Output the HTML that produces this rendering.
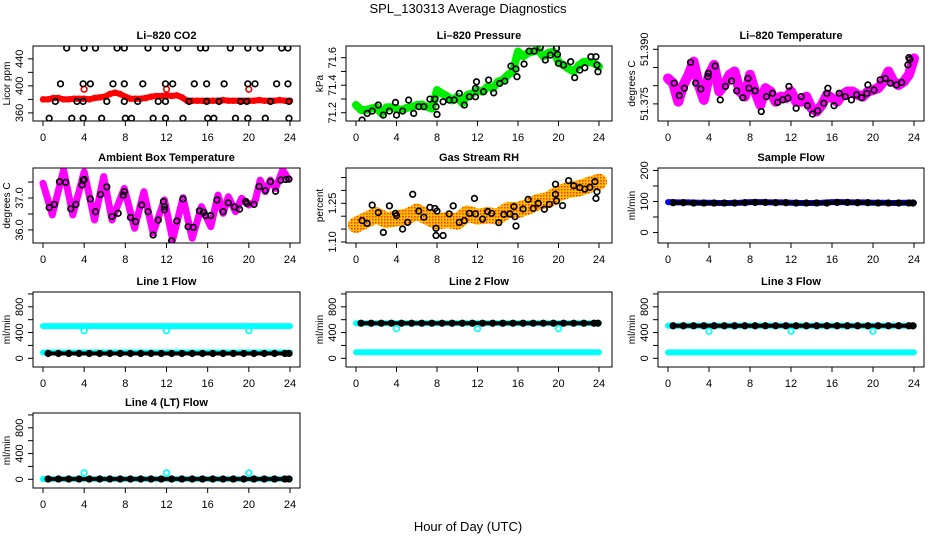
<!DOCTYPE html>
<html><head><meta charset="utf-8">
<style>
html,body{margin:0;padding:0;background:#fff;}
svg{display:block;font-family:"Liberation Sans",Arial,sans-serif;}
</style></head>
<body>
<svg id="chart" width="936" height="540" viewBox="0 0 936 540" xmlns="http://www.w3.org/2000/svg">
<defs>
<pattern id="rhpat" width="3" height="3" patternUnits="userSpaceOnUse">
<rect width="3" height="3" fill="#ffc000"/><rect width="1.5" height="1.5" fill="#ff3000"/>
</pattern>
</defs>
<text x="468" y="13" text-anchor="middle" font-size="13">SPL_130313  Average Diagnostics</text>
<text x="468" y="531" text-anchor="middle" font-size="13">Hour of Day (UTC)</text>
</svg>
<script>
// ---------- data ----------
const xTicks = [0,4,8,12,16,20,24];
const halfHours = [0,0.5,1,1.5,2,2.5,3,3.5,4,4.5,5,5.5,6,6.5,7,7.5,8,8.5,9,9.5,10,10.5,11,11.5,12,12.5,13,13.5,14,14.5,15,15.5,16,16.5,17,17.5,18,18.5,19,19.5,20,20.5,21,21.5,22,22.5,23,23.5,24];
const hours = [0,1,2,3,4,5,6,7,8,9,10,11,12,13,14,15,16,17,18,19,20,21,22,23,24];
const offHours = [0.5,1.5,2.5,3.5,4.5,5.5,6.5,7.5,8.5,9.5,10.5,11.5,12.5,13.5,14.5,15.5,16.5,17.5,18.5,19.5,20.5,21.5,22.5,23.5,23.9];
const outlierHours = [4,12,20];

const co2Red = [380,380,382,382,380,380,381,381,381,380,382,383,384,388,390,388,384,381,381,381,382,384,385,385,386,385,386,383,378,378,378,378,378,378,378,379,378,378,378,378,378,378,379,378,378,378,379,378,378];
const co2RedOutliers = [395,395,395];
const co2Levels = [456,403,377,352];
const co2LevelTimes = [
 [2.3,4.0,5.1,7.2,7.9,10.2,11.9,13.1,15.3,15.8,18.2,19.9,21.1,23.2,23.8],
 [1.7,3.9,4.6,6.8,7.9,9.7,11.9,12.6,14.7,15.9,17.6,19.9,20.6,22.7,23.8],
 [1.2,3.3,3.9,6.2,7.9,9.2,11.2,11.9,14.2,15.9,17.1,19.2,19.8,22.1,23.9],
 [0.6,2.8,3.9,5.7,8.0,8.6,10.7,11.9,13.6,16.0,16.6,18.7,19.9,21.6,23.9]];

const presGreen = [71.256,71.22,71.22,71.23,71.24,71.195,71.24,71.24,71.23,71.22,71.235,71.24,71.256,71.26,71.244,71.23,71.365,71.34,71.32,71.29,71.316,71.27,71.33,71.34,71.365,71.353,71.39,71.377,71.425,71.438,71.475,71.5,71.645,71.61,71.635,71.645,71.655,71.61,71.635,71.645,71.57,71.545,71.52,71.5,71.545,71.57,71.57,71.56,71.535];
const presBlackT = [0.6,1.1,1.6,2.2,2.7,3.3,3.9,4.0,4.6,5.2,5.7,6.2,6.7,7.3,7.8,7.9,8.0,8.6,9.2,9.7,10.2,10.7,11.2,11.8,11.8,11.9,12.6,13.1,13.6,14.2,14.7,15.3,15.8,15.9,16.6,17.1,17.6,18.2,18.7,19.2,19.8,19.9,20.0,20.5,21.2,21.6,22.1,22.6,23.2,23.7,23.8,23.9];
const presBlackV = [71.147,71.195,71.212,71.256,71.183,71.212,71.275,71.183,71.212,71.292,71.195,71.244,71.244,71.299,71.299,71.244,71.188,71.28,71.292,71.292,71.341,71.256,71.316,71.316,71.377,71.425,71.353,71.438,71.345,71.413,71.43,71.539,71.518,71.462,71.554,71.648,71.648,71.673,71.583,71.619,71.668,71.624,71.559,71.547,71.571,71.455,71.51,71.527,71.607,71.607,71.547,71.498];

const tempMag = [51.3820,51.3807,51.3756,51.3802,51.3830,51.3866,51.3802,51.3761,51.3830,51.3857,51.3784,51.3802,51.3830,51.3839,51.3784,51.3770,51.3830,51.3784,51.3747,51.3793,51.3784,51.3756,51.3770,51.3766,51.3784,51.3756,51.3756,51.3770,51.3738,51.3729,51.3747,51.3775,51.3766,51.3756,51.3775,51.3784,51.3784,51.3775,51.3770,51.3784,51.3788,51.3793,51.3811,51.3839,51.3811,51.3802,51.3811,51.3830,51.3875];
const tempBlackT = [0.6,1.1,1.6,2.2,2.7,3.2,3.9,3.95,4.6,5.1,5.6,6.2,6.7,7.3,7.8,7.9,8.5,9.1,9.6,10.2,10.7,11.2,11.7,11.8,12.5,13,13.6,14.1,14.6,15.2,15.5,15.6,16.2,16.7,17.3,17.9,18.4,18.9,19.4,19.5,20.1,20.7,21.2,21.7,22.3,22.8,23.4,23.5,23.6];
const tempBlackV = [51.3807,51.3773,51.3793,51.3864,51.3807,51.3791,51.3825,51.3834,51.3854,51.3761,51.3798,51.3813,51.3786,51.3767,51.3820,51.3793,51.3786,51.3729,51.3770,51.3779,51.3754,51.3761,51.3766,51.3798,51.3738,51.3770,51.3745,51.3722,51.3731,51.3752,51.3779,51.3793,51.3745,51.3779,51.3770,51.3761,51.3775,51.3767,51.3779,51.3802,51.3788,51.3816,51.3820,51.3807,51.3802,51.3809,51.3857,51.3877,51.3872];

const ambT = [0,0.9,2.0,2.9,4.0,5.0,5.9,6.7,7.9,8.9,9.8,10.7,11.8,12.6,13.6,14.5,15.4,16.3,17.0,17.5,18.0,18.7,19.3,20.0,20.6,21.1,21.6,22.1,22.6,23.3,23.8];
const ambV = [37.46,36.47,37.88,36.47,37.82,36.31,37.67,36.31,37.30,36.05,37.20,35.90,36.94,35.69,37.01,35.74,36.73,36.10,37.09,36.52,37.04,36.57,36.99,36.78,36.89,37.56,37.20,37.56,37.30,37.88,37.61];
const ambBlackT = [0.6,1.1,1.6,2.2,2.7,3.2,3.8,3.9,4.0,4.6,5.1,5.6,6.2,6.7,7.3,7.8,7.9,8.5,9.0,9.6,10.2,10.7,11.2,11.7,11.8,11.8,12.5,13.0,13.6,14.1,14.6,15.2,15.6,15.8,16.3,16.9,17.5,18.0,18.6,19.1,19.7,19.8,20.5,21.0,21.6,22.1,22.6,23.1,23.6,23.9];
const ambBlackV = [36.70,36.80,37.51,37.49,36.66,36.80,37.41,37.56,37.58,36.97,36.57,37.11,37.35,36.42,36.52,37.09,37.20,36.39,36.26,36.78,36.57,35.84,36.31,36.89,36.73,36.63,35.66,36.28,36.97,36.10,36.08,36.60,36.55,36.45,36.45,36.94,36.57,36.85,36.72,36.65,36.89,36.83,36.80,37.36,37.23,37.51,37.21,37.56,37.58,37.59];

const rhBand = [1.166,1.185,1.204,1.185,1.192,1.198,1.218,1.198,1.179,1.185,1.179,1.211,1.198,1.204,1.198,1.224,1.224,1.237,1.256,1.263,1.289,1.302,1.308,1.321,1.334];
const rhBlackT = [0.6,1.1,1.6,2.2,2.7,3.3,3.9,4.0,4.6,5.1,5.6,6.2,6.7,7.3,7.8,7.9,7.9,8.0,8.6,9.2,9.6,10.2,10.7,11.2,11.7,11.8,12.5,13.0,13.4,14.1,14.6,15.2,15.6,15.7,15.8,16.5,17.0,17.5,18.0,18.6,19.1,19.7,19.7,19.8,20.4,21.0,21.5,22.1,22.6,23.1,23.6,23.7,23.8];
const rhBlackV = [1.183,1.172,1.243,1.214,1.137,1.240,1.211,1.202,1.150,1.176,1.285,1.220,1.196,1.234,1.230,1.153,1.125,1.220,1.125,1.209,1.240,1.176,1.183,1.211,1.269,1.209,1.189,1.218,1.211,1.175,1.207,1.209,1.237,1.198,1.162,1.228,1.265,1.230,1.250,1.227,1.246,1.324,1.285,1.259,1.241,1.338,1.318,1.311,1.305,1.312,1.334,1.269,1.295];

const sfBlue = [98,97,97,96,96,95,95,96,98,98,97,97,96,95,95,96,98,98,97,97,96,96,95,96,96];
const sfBlack = [96,96,95,95,95,95,95,96,97,97,96,96,95,95,95,95,97,97,96,96,95,95,95,95,95];

const l1CyanHigh = [500,500,500,500,500,500,500,500,500,500,500,500,500,500,500,500,500,500,500,500,500,500,500,500,500];
const l1CyanLow = [90,90,90,90,90,90,90,90,90,90,90,90,90,90,90,90,90,90,90,90,90,90,90,90,90];
const l1Black = [75,75,75,75,75,75,75,75,75,75,75,75,75,75,75,75,75,75,75,75,75,75,75,75,75];
const l1Out = [430,430,430];
const l2CyanHigh = [545,545,545,545,545,545,545,545,545,545,545,545,545,545,545,545,545,545,545,545,545,545,545,545,545];
const l2CyanLow = [95,95,95,95,95,95,95,95,95,95,95,95,95,95,95,95,95,95,95,95,95,95,95,95,95];
const l2Black = [545,545,545,545,545,545,545,545,545,545,545,545,545,545,545,545,545,545,545,545,545,545,545,545,545];
const l2Out = [460,460,460];
const l3CyanHigh = [505,505,505,505,505,505,505,505,505,505,505,505,505,505,505,505,505,505,505,505,505,505,505,505,505];
const l3CyanLow = [92,92,92,92,92,92,92,92,92,92,92,92,92,92,92,92,92,92,92,92,92,92,92,92,92];
const l3Black = [505,505,505,505,505,505,505,505,505,505,505,505,505,505,505,505,505,505,505,505,505,505,505,505,505];
const l3Out = [420,420,420];
const l4Cyan = [5,5,5,5,5,5,5,5,5,5,5,5,5,5,5,5,5,5,5,5,5,5,5,5,5];
const l4Black = [5,5,5,5,5,5,5,5,5,5,5,5,5,5,5,5,5,5,5,5,5,5,5,5,5];
const l4Out = [100,100,100];

// ---------- drawing ----------
const NS = "http://www.w3.org/2000/svg";
const svg = document.getElementById('chart');
function mk(parent, tag, attrs){
  const e = document.createElementNS(NS, tag);
  for (const k in attrs) e.setAttribute(k, attrs[k]);
  parent.appendChild(e);
  return e;
}
const cols = [{l:33,r:300,x0:43,x24:290},{l:346,r:612,x0:356,x24:599},{l:658,r:924,x0:668,x24:914}];
const rows = [{t:46,b:121},{t:168,b:243},{t:292,b:367},{t:413,b:488}];
let pid = 0;
function panel(ci, ri, title, ylab, yTop, yBot, yTicks, yLabels, name){
  const c = cols[ci], rw = rows[ri];
  const g = mk(svg, 'g', {});
  
  
  const X = t => c.x0 + (t/24)*(c.x24 - c.x0);
  const Y = v => rw.b - (v - yBot)/(yTop - yBot)*(rw.b - rw.t);
  pid++;
  const cp = mk(g, 'clipPath', {id:'cp'+pid});
  mk(cp, 'rect', {x:c.l, y:rw.t, width:c.r-c.l, height:rw.b-rw.t});
  const marks = mk(g, 'g', {'clip-path':'url(#cp'+pid+')'});
  
  
  const box = mk(g, 'rect', {x:c.l, y:rw.t, width:c.r-c.l, height:rw.b-rw.t, fill:'none', stroke:'#000', 'stroke-width':1});
  
  
  const tt = mk(g, 'text', {x:(c.l+c.r)/2, y:rw.t-7, 'text-anchor':'middle', 'font-size':11, 'font-weight':'bold'});
  tt.textContent = title;
  
  
  xTicks.forEach(t => {
    const tk = mk(g, 'line', {x1:X(t), x2:X(t), y1:rw.b, y2:rw.b+5, stroke:'#000'});
    
    
    const lb = mk(g, 'text', {x:X(t), y:rw.b+20, 'text-anchor':'middle', 'font-size':11});
    lb.textContent = t;
    
    
  });
  yTicks.forEach(v => {
    const tk = mk(g, 'line', {x1:c.l-5, x2:c.l, y1:Y(v), y2:Y(v), stroke:'#000'});
    
    
  });
  yLabels.forEach(s => {
    const v = parseFloat(s);
    const lb = mk(g, 'text', {x:0, y:0, 'text-anchor':'middle', 'font-size':11, transform:'translate('+(c.l-10)+','+Y(v)+') rotate(-90)'});
    lb.textContent = s;
    
    
  });
  const yl = mk(g, 'text', {x:0, y:0, 'text-anchor':'middle', 'font-size':10, transform:'translate('+(c.l-23)+','+((rw.t+rw.b)/2)+') rotate(-90)'});
  yl.textContent = ylab;
  
  
  return {X, Y, g:marks};
}
function band(p, ts, vs, color, w, name){
  const n = Math.min(ts.length, vs.length);
  let d = '';
  for (let i=0;i<n;i++) d += (i?'L':'M') + p.X(ts[i]).toFixed(1) + ',' + p.Y(vs[i]).toFixed(1);
  const e = mk(p.g, 'path', {d:d, fill:'none', stroke:color, 'stroke-width':w, 'stroke-linejoin':'round', 'stroke-linecap':'round'});
  
  
}
function pts(p, ts, vs, color, name, r, sw){
  const n = Math.min(ts.length, vs.length);
  for (let i=0;i<n;i++){
    const e = mk(p.g, 'circle', {cx:p.X(ts[i]), cy:p.Y(vs[i]), r:r||2.8, fill:'none', stroke:color, 'stroke-width':sw||1.7});
    
    
  }
}

// Li-820 CO2
let p = panel(0,0,'Li\u2013820 CO2','Licor ppm',459,348,[360,380,400,420,440],['360','400','440'],'co2');
band(p, halfHours, co2Red, '#ff0000', 6, 'co2-red-series');
pts(p, halfHours, co2Red, '#ff0000', 'co2-red-point', 2.5, 1.5);
pts(p, outlierHours, co2RedOutliers, '#ff0000', 'co2-red-outlier');
co2Levels.forEach((lv, k) => {
  pts(p, co2LevelTimes[k], co2LevelTimes[k].map(() => lv), '#000', 'co2-black-point');
});

// Li-820 Pressure
p = panel(1,0,'Li\u2013820 Pressure','kPa',71.685,71.14,[71.2,71.3,71.4,71.5,71.6],['71.2','71.4','71.6'],'pressure');
band(p, halfHours, presGreen, '#00ee00', 8, 'pressure-green-series');
pts(p, halfHours, presGreen, '#00ee00', 'pressure-green-point', 3, 1.5);
pts(p, presBlackT, presBlackV, '#000', 'pressure-black-point');

// Li-820 Temperature
p = panel(2,0,'Li\u2013820 Temperature','degrees C',51.3909,51.3703,[51.375,51.380,51.385,51.390],['51.375','51.390'],'li820-temp');
band(p, halfHours, tempMag, '#ff00ff', 10, 'temp-magenta-series');
pts(p, halfHours, tempMag, '#ff00ff', 'temp-magenta-point', 3, 1.5);
pts(p, tempBlackT, tempBlackV, '#000', 'temp-black-point');

// Ambient Box Temperature
p = panel(0,1,'Ambient Box Temperature','degrees C',37.94,35.59,[36.0,36.5,37.0,37.5],['36.0','37.0'],'ambient-temp');
band(p, ambT, ambV, '#ff00ff', 7, 'ambient-magenta-series');
pts(p, ambBlackT, ambBlackV, '#000', 'ambient-black-point');

// Gas Stream RH
p = panel(1,1,'Gas Stream RH','percent',1.387,1.096,[1.10,1.15,1.20,1.25,1.30,1.35],['1.10','1.25'],'rh');
band(p, hours, rhBand, 'url(#rhpat)', 16, 'rh-orange-series');
pts(p, rhBlackT, rhBlackV, '#000', 'rh-black-point');

// Sample Flow
p = panel(2,1,'Sample Flow','ml/min',208,-34,[0,50,100,150,200],['0','100','200'],'sample-flow');
band(p, hours, sfBlue, '#0000ff', 6, 'sample-flow-blue-series');
band(p, offHours, sfBlack, '#000', 4, 'sample-flow-black-series');
pts(p, offHours, sfBlack, '#000', 'sample-flow-black-point');

const flowTicks = [0,200,400,600,800,1000], flowLabels = ['0','400','800'];
// Line 1
p = panel(0,2,'Line 1 Flow','ml/min',1030,-135,flowTicks,flowLabels,'line1-flow');
band(p, hours, l1CyanHigh, '#00ffff', 6, 'line1-cyan-high');
band(p, hours, l1CyanLow, '#00ffff', 6, 'line1-cyan-low');
band(p, offHours, l1Black, '#000', 4, 'line1-black-series');
pts(p, offHours, l1Black, '#000', 'line1-black-point');
pts(p, outlierHours, l1Out, '#00ffff', 'line1-cyan-outlier');
// Line 2
p = panel(1,2,'Line 2 Flow','ml/min',1030,-135,flowTicks,flowLabels,'line2-flow');
band(p, hours, l2CyanHigh, '#00ffff', 6, 'line2-cyan-high');
band(p, hours, l2CyanLow, '#00ffff', 6, 'line2-cyan-low');
band(p, offHours, l2Black, '#000', 4, 'line2-black-series');
pts(p, offHours, l2Black, '#000', 'line2-black-point');
pts(p, outlierHours, l2Out, '#00ffff', 'line2-cyan-outlier');
// Line 3
p = panel(2,2,'Line 3 Flow','ml/min',1030,-135,flowTicks,flowLabels,'line3-flow');
band(p, hours, l3CyanHigh, '#00ffff', 6, 'line3-cyan-high');
band(p, hours, l3CyanLow, '#00ffff', 6, 'line3-cyan-low');
band(p, offHours, l3Black, '#000', 4, 'line3-black-series');
pts(p, offHours, l3Black, '#000', 'line3-black-point');
pts(p, outlierHours, l3Out, '#00ffff', 'line3-cyan-outlier');
// Line 4
p = panel(0,3,'Line 4 (LT) Flow','ml/min',1030,-135,flowTicks,flowLabels,'line4-flow');
band(p, hours, l4Cyan, '#00ffff', 6, 'line4-cyan-series');
band(p, offHours, l4Black, '#000', 4, 'line4-black-series');
pts(p, offHours, l4Black, '#000', 'line4-black-point');
pts(p, outlierHours, l4Out, '#00ffff', 'line4-cyan-outlier');
</script>
</body></html>
